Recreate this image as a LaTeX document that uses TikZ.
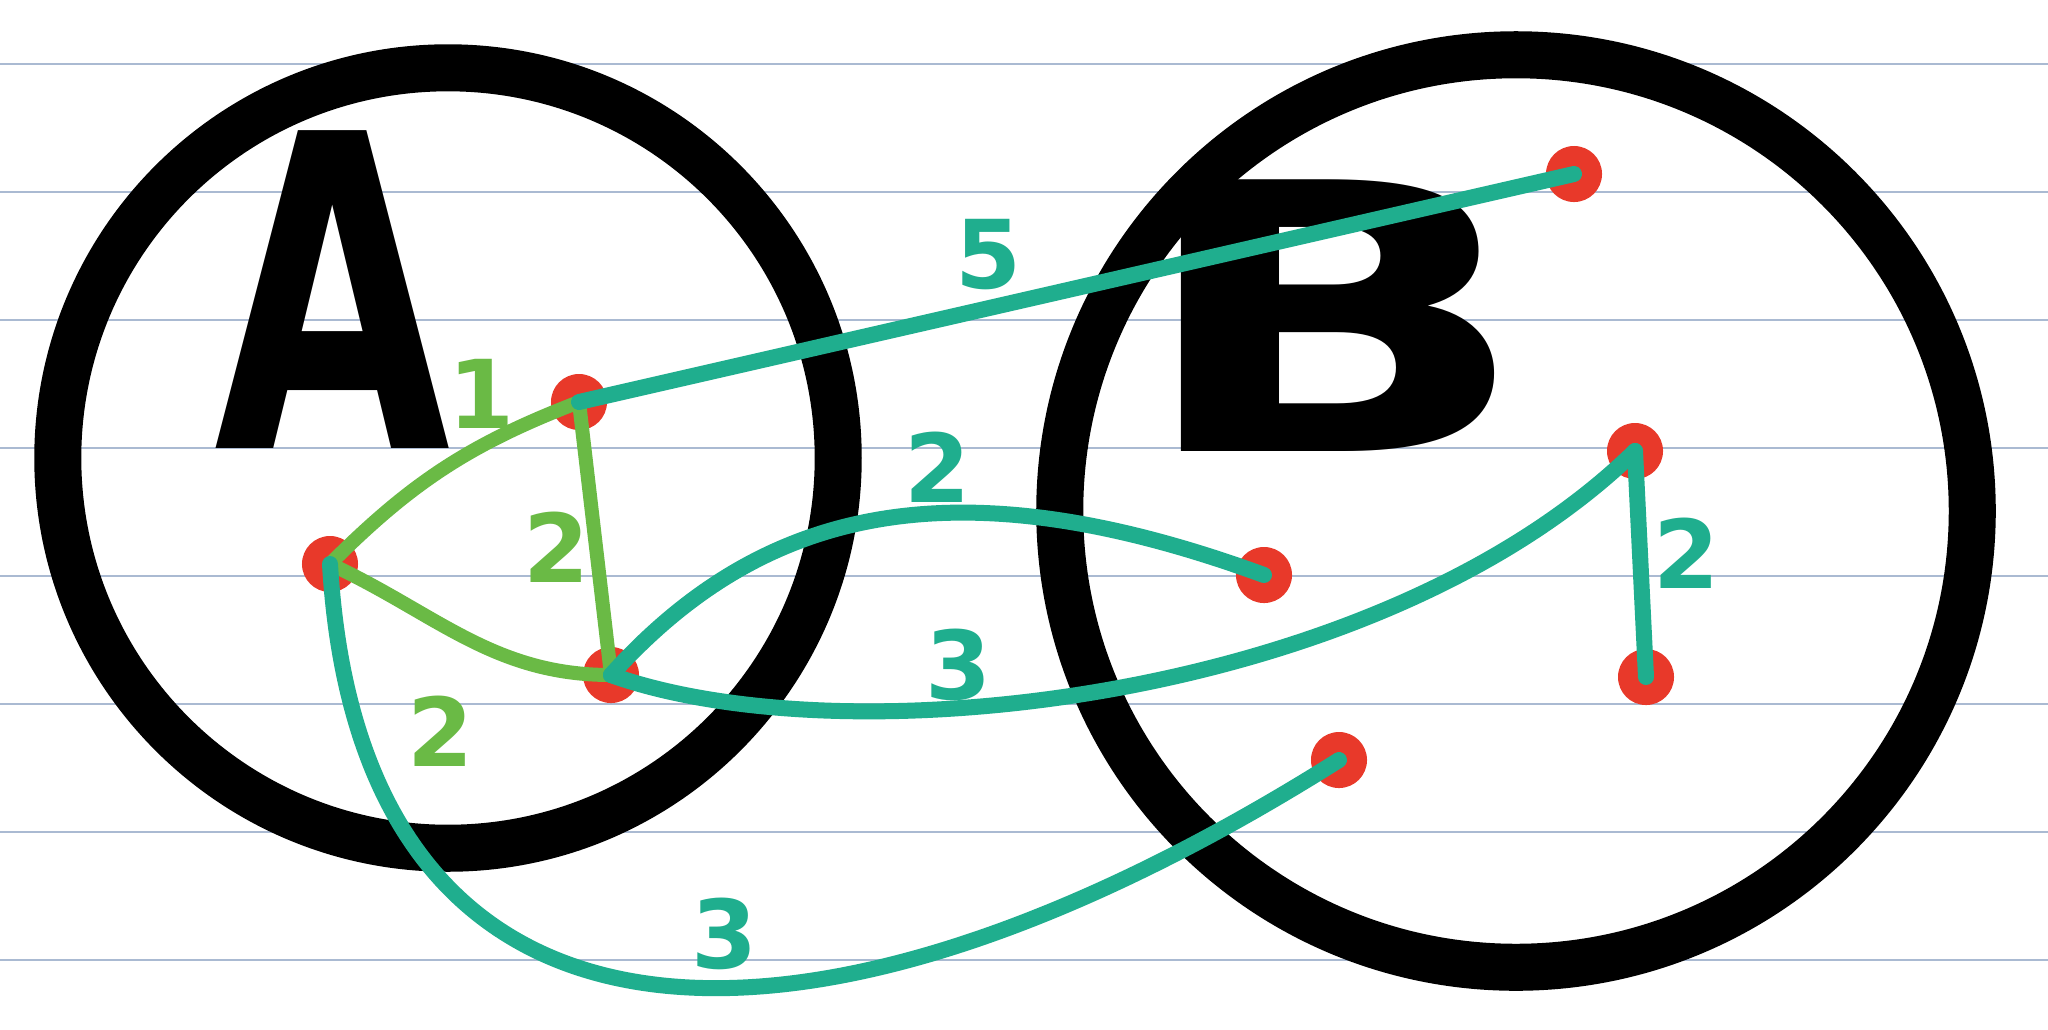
\documentclass[tikz,border=0pt]{standalone}
\usepackage{fontspec}
\setsansfont{DejaVu Sans}
\usepackage{tikz}
\definecolor{DotRed}{RGB}{232,57,42}
\definecolor{EdgeGreen}{RGB}{106,186,69}
\definecolor{EdgeTeal}{RGB}{31,174,142}
\definecolor{RuleBlue}{RGB}{170,186,210}

\begin{document}
\begin{tikzpicture}[x=0.01cm,y=-0.01cm,
    ring/.style={circle,draw=black,line width=0.47cm,inner sep=0pt},
    dot/.style={circle,fill=DotRed,minimum size=0.56cm,inner sep=0pt},
    gedge/.style={EdgeGreen,line width=0.14cm,line cap=round},
    tedge/.style={gedge,draw=EdgeTeal,line width=0.16cm},
    glbl/.style={font=\sffamily\bfseries\fontsize{27}{27}\selectfont,text=EdgeGreen,inner sep=0pt},
    tlbl/.style={glbl,text=EdgeTeal},
    setlbl/.style={font=\sffamily\bfseries\fontsize{124}{124}\selectfont,inner sep=0pt}
  ]
  \fill[white] (0,0) rectangle (2048,1029);
  \useasboundingbox (0,0) rectangle (2048,1029);
  % ruled paper
  \foreach \y in {64,192,...,960}
    \draw[RuleBlue,line width=0.02cm] (0,\y) -- (2048,\y);

  % the two sets
  \node[ring,minimum size=7.8cm] (setA) at (448,458) {};
  \node[ring,minimum size=9.12cm] (setB) at (1516,511) {};
  \node[setlbl] (lA) at (333,290) {\scalebox{0.7}[1]{A}};
  \node[setlbl,font=\sffamily\bfseries\fontsize{106}{106}\selectfont] (lB) at (1332,316) {\scalebox{1.4}[1]{B}};

  % vertices
  \node[dot] (a1) at (579,402) {};
  \node[dot] (a2) at (330,564) {};
  \node[dot] (a3) at (611,675) {};
  \node[dot] (b1) at (1574,174) {};
  \node[dot] (b2) at (1264,575) {};
  \node[dot] (b3) at (1635,451) {};
  \node[dot] (b4) at (1646,677) {};
  \node[dot] (b5) at (1339,760) {};

  % edges inside A
  \draw[gedge] (a1.center) to[bend right=12] (a2.center);
  \draw[gedge] (a1.center) -- (a3.center);
  \draw[gedge] (a2.center) to[out=-25,in=180] (a3.center);

  % edges to B
  \draw[tedge] (a1.center) -- (b1.center);
  \draw[tedge] (a3.center) .. controls (760,510) and (950,460) .. (b2.center);
  \draw[tedge] (a3.center) .. controls (850,760) and (1380,700) .. (b3.center);
  \draw[tedge] (b3.center) -- (b4.center);
  \draw[tedge] (a2.center) .. controls (360,1080) and (800,1100) .. (b5.center);

  % weights
  \node[glbl] (w1) at (482,394) {1};
  \node[glbl] (w2) at (557,547) {2};
  \node[glbl] (w3) at (441,731) {2};
  \node[tlbl] (w4) at (989,255) {5};
  \node[tlbl] (w5) at (938,467) {2};
  \node[tlbl] (w6) at (959,665) {3};
  \node[tlbl] (w7) at (725,934) {3};
  \node[tlbl] (w8) at (1687,553) {2};
\end{tikzpicture}
\end{document}
